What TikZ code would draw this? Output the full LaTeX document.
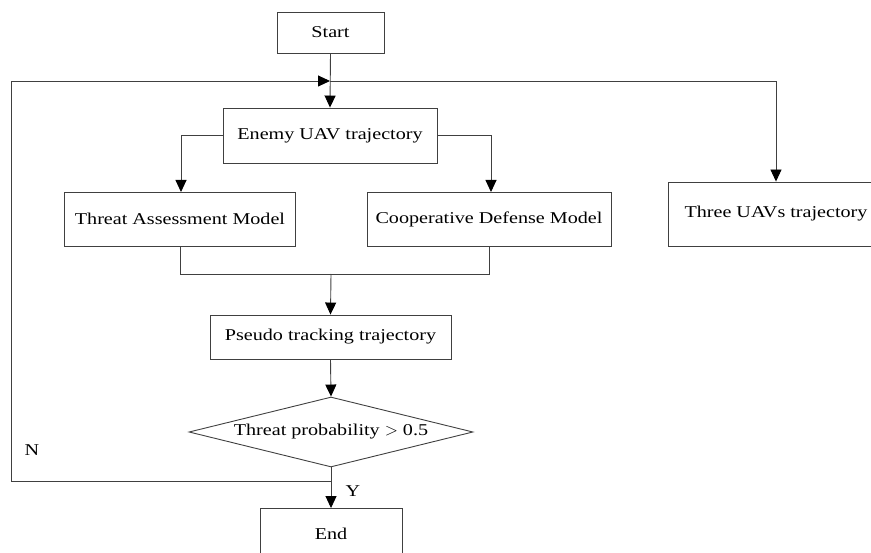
\documentclass[tikz,border=0pt]{standalone}
\usepackage{fontspec}
\setmainfont[FakeStretch=1.22]{Liberation Serif}
\usetikzlibrary{shapes.geometric,arrows.meta}
\definecolor{linecol}{HTML}{404040}
\tikzset{
  box/.style={draw=linecol,line width=0.9pt,rectangle,inner sep=0pt,align=center,
    font=\fontsize{16.5}{19}\selectfont},
  decision/.style={draw=linecol,line width=0.9pt,diamond,shape aspect=4.06,inner sep=0pt,
    minimum width=284pt,minimum height=70pt,font=\fontsize{16.5}{19}\selectfont},
  conn/.style={draw=linecol,line width=0.9pt},
  arr/.style={conn,-{Triangle[length=12pt,width=11pt,color=black,fill=black]}},
  lbl/.style={font=\fontsize{16.5}{19}\selectfont,inner sep=0pt}
}
\begin{document}
\begin{tikzpicture}[x=1pt,y=-1pt]
\useasboundingbox (0,0) rectangle (871,553);
\node[box,minimum width=107pt,minimum height=41pt] (start) at (330.5,32.5) {Start};
\node[box,minimum width=214pt,minimum height=55pt] (enemy) at (330,135.5) {Enemy UAV trajectory};
\node[box,minimum width=231pt,minimum height=54pt] (threat) at (180,219) {Threat Assessment Model};
\node[box,minimum width=244pt,minimum height=54pt] (coop) at (489,219) {Cooperative Defense Model};
\node[box,minimum width=216pt,minimum height=64pt] (three) at (776,214) {Three UAVs trajectory};
\node[box,minimum width=241pt,minimum height=44pt] (pseudo) at (330.5,337) {Pseudo tracking trajectory};
\node[decision] (dec) at (331,432) {Threat probability $>$ 0.5};
\node[box,minimum width=142pt,minimum height=51pt] (end) at (331,534) {End};
\node[lbl] (nlab) at (32,450) {N};
\node[lbl] (ylab) at (353,491) {Y};

\coordinate (jtop) at (330,81);
\coordinate (jbot) at (331,481);
\coordinate (jmerge) at (331,274);

% start to enemy
\draw[arr] (start.south) -- (enemy.north);
% loop back (N)
\draw[arr] (jbot) -- (11,481) -- (11,81) -- (jtop);
% to three UAVs
\draw[arr] (jtop) -- (three.north |- jtop) -- (three.north);
% enemy branches
\draw[arr] (enemy.west) -- (181,135.5) -- (181,192);
\draw[arr] (enemy.east) -- (491,135.5) -- (491,192);
% merge
\draw[conn] (threat.south) -- (180,274) -- (489,274) -- (coop.south);
\draw[arr] (jmerge) -- (pseudo.north);
\draw[arr] (pseudo.south) -- (dec.north);
\draw[arr] (dec.south) -- (end.north);
\end{tikzpicture}
\end{document}
